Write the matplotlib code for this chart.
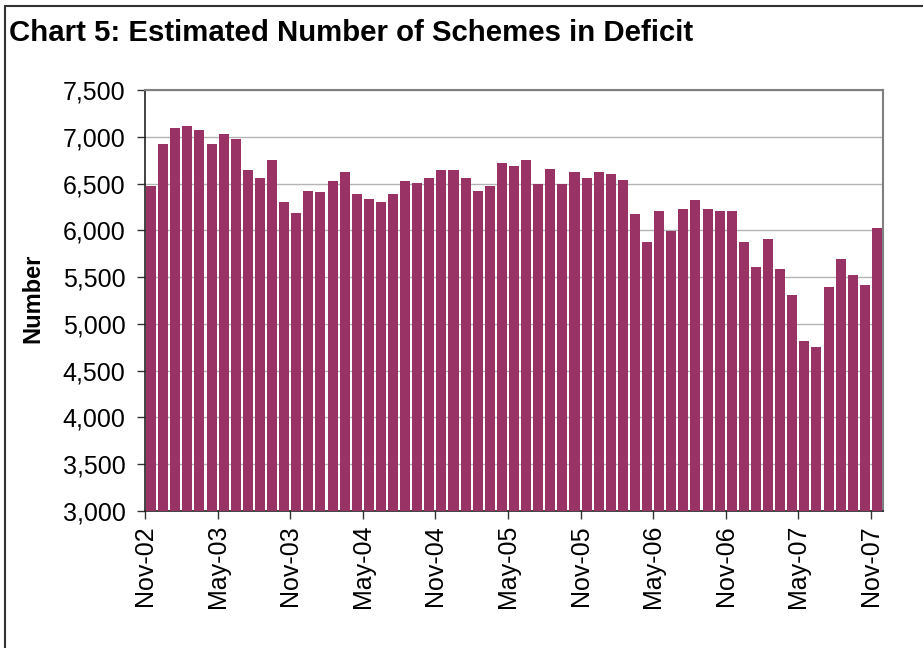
import matplotlib
matplotlib.use("Agg")
import matplotlib.pyplot as plt
from matplotlib.patches import Rectangle

plt.rcParams['font.family'] = ['Liberation Sans', 'DejaVu Sans']

# Monthly estimates, Nov-02 .. Nov-07 (61 months)
values = [
    6470, 6920, 7090, 7110, 7070, 6920, 7030, 6980, 6640, 6555,
    6750, 6300, 6190, 6425, 6405, 6530, 6620, 6385, 6340, 6300,
    6385, 6530, 6510, 6555, 6640, 6640, 6555, 6425, 6470, 6725,
    6685, 6750, 6490, 6660, 6490, 6620, 6555, 6620, 6600, 6535,
    6170, 5870, 6210, 5995, 6230, 6320, 6230, 6210, 6210, 5870,
    5610, 5910, 5590, 5310, 4820, 4755, 5395, 5695, 5520, 5415,
    6020,
]
tick_labels = ["Nov-02", "May-03", "Nov-03", "May-04", "Nov-04", "May-05",
               "Nov-05", "May-06", "Nov-06", "May-07", "Nov-07"]
tick_step = 6
y_ticks = [3000, 3500, 4000, 4500, 5000, 5500, 6000, 6500, 7000, 7500]

W, H = 923, 648
fig = plt.figure(figsize=(W / 100, H / 100), dpi=100)
ax = fig.add_axes([145 / W, 1 - 511 / H, (883 - 145) / W, (511 - 90) / H])

x = list(range(len(values)))
ax.bar(x, values, width=0.83, color="#993366", zorder=3)

ax.set_xlim(-0.5, len(values) - 0.5)
ax.set_ylim(3000, 7500)
ax.set_yticks(y_ticks)
ax.set_yticklabels([f"{v:,}" for v in y_ticks], fontsize=18)
ax.set_xticks([i * tick_step - 0.5 for i in range(len(tick_labels))])
ax.set_xticklabels(tick_labels, rotation=90, fontsize=18)
ax.tick_params(axis="both", direction="out", length=6, width=1, color="#333333")
ax.tick_params(axis="y", pad=8)
ax.tick_params(axis="x", pad=4)
ax.yaxis.grid(True, color="#b4b4b4", linewidth=1, zorder=0)
ax.set_axisbelow(True)

for s in ("top", "right"):
    ax.spines[s].set_color("#808080")
    ax.spines[s].set_linewidth(1.5)
for s in ("left", "bottom"):
    ax.spines[s].set_color("#222222")
    ax.spines[s].set_linewidth(1.2)

fig.text(33 / W, 1 - 298 / H, "Number", fontsize=17, fontweight="bold",
         rotation=90, ha="center", va="center")

fig.text(9 / W, 1 - 33 / H, "Chart 5: Estimated Number of Schemes in Deficit",
         fontsize=21.2, fontweight="bold", ha="left", va="center")

fig.patches.append(Rectangle((5 / W, -0.01), 1.0, 1 - 5.5 / H + 0.01,
                             transform=fig.transFigure, fill=False,
                             edgecolor="#333333", linewidth=1.5))

fig.savefig("out.png", dpi=100)
